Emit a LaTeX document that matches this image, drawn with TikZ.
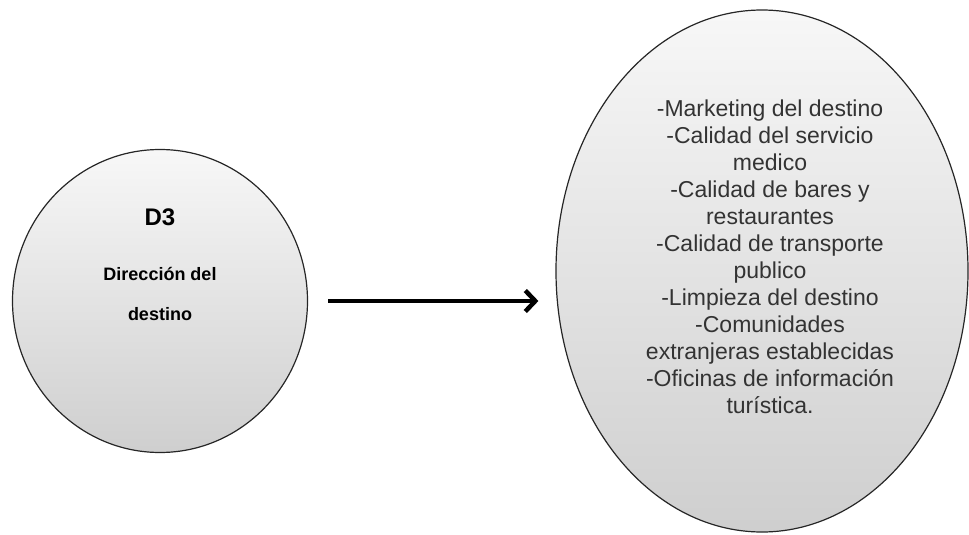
\documentclass[tikz,border=0pt]{standalone}
\usepackage{fontspec}
\setmainfont{Liberation Sans}
\usetikzlibrary{shapes.geometric,arrows.meta}

\tikzset{
  burbuja/.style={ellipse, draw=black!85, line width=1.2pt, inner sep=0pt,
    shading=axis, top color=gray!6, bottom color=gray!38},
  flecha/.style={line width=4.5pt, -{Straight Barb[length=10pt,width=21pt]}}
}

\begin{document}
\begin{tikzpicture}[x=1pt,y=-1pt]
    % marco de la figura (mismo tamano que la imagen)
    \useasboundingbox (0,0) rectangle (969,535);

    % circulo de la dimension D3
    \node[burbuja, minimum width=295pt, minimum height=303pt] (d3) at (160,301) {};
    \node[anchor=base, font=\fontsize{24}{28}\selectfont\bfseries] (titulo) at (160,225) {D3};
    \node[align=center, font=\fontsize{18}{40}\selectfont\bfseries] (nombre) at (160,294)
        {Dirección del\\destino};

    % elipse con los factores
    \node[burbuja, minimum width=412pt, minimum height=522pt] (factores) at (762,271) {};
    \node[align=center, text=black!80, font=\fontsize{23}{27}\selectfont] (lista) at (770,257)
        {-Marketing del destino\\-Calidad del servicio\\medico\\-Calidad de bares y\\restaurantes\\
         -Calidad de transporte\\publico\\-Limpieza del destino\\-Comunidades\\
         extranjeras establecidas\\-Oficinas de información\\turística.};

    % flecha entre las dos figuras
    \draw[flecha, shorten <=20pt, shorten >=17pt] (d3.east) -- (d3.east -| factores.west);
\end{tikzpicture}
\end{document}
